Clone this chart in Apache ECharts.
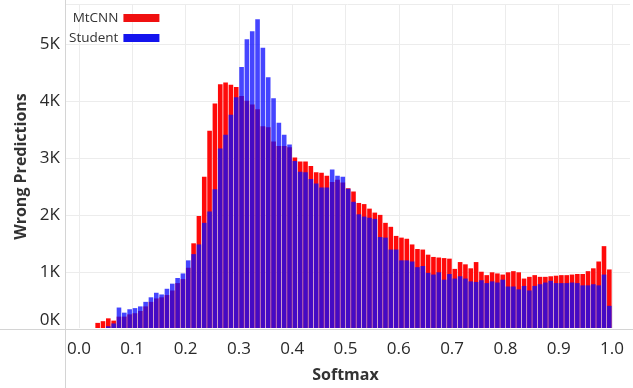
<!DOCTYPE html>
<html>
<head>
<meta charset="utf-8">
<script src="https://cdn.jsdelivr.net/npm/echarts@6/dist/echarts.min.js"></script>
<style>
  html, body { margin: 0; padding: 0; background: #fff; }
  #chart { width: 633px; height: 388px; }
</style>
</head>
<body>
<div id="chart"></div>
<script>
// wrong predictions per softmax bin (width 0.01)
const mtcnn = [
  0, 0, 0, 90, 120, 170, 130, 200, 200, 240,
  260, 300, 380, 460, 520, 540, 580, 660, 790, 860,
  1060, 1490, 1970, 2660, 3470, 3950, 4290, 4320, 4280, 4240,
  4080, 4000, 3930, 3850, 3550, 3530, 3280, 3200, 3200, 3180,
  3000, 2930, 2930, 2850, 2740, 2730, 2680, 2570, 2610, 2560,
  2460, 2400, 2200, 2180, 2100, 2030, 1990, 1850, 1780, 1620,
  1590, 1570, 1470, 1390, 1380, 1290, 1250, 1240, 1230, 1220,
  1040, 1160, 1120, 1050, 1160, 990, 930, 980, 960, 940,
  980, 1000, 980, 870, 900, 930, 900, 900, 910, 920,
  930, 930, 940, 950, 950, 1000, 1050, 1170, 1440, 1030
];
const student = [
  0, 0, 0, 0, 0, 30, 80, 360, 270, 330,
  350, 380, 460, 540, 620, 590, 690, 780, 880, 960,
  1190, 1300, 1470, 1850, 2050, 2440, 3160, 3400, 3750, 4060,
  4590, 5080, 5220, 5430, 4930, 4410, 4040, 3610, 3400, 3230,
  2940, 2750, 2740, 2620, 2540, 2470, 2470, 2790, 2680, 2660,
  2450, 2220, 2000, 1960, 1940, 1920, 1600, 1590, 1380, 1380,
  1190, 1190, 1170, 1070, 1090, 970, 940, 980, 850, 950,
  870, 910, 870, 820, 810, 840, 790, 820, 800, 850,
  730, 730, 680, 740, 660, 740, 770, 800, 830, 790,
  790, 790, 800, 790, 750, 750, 770, 750, 940, 390
];
const binWidth = 0.01;
const binCenters = mtcnn.map((_, i) => +((i + 0.5) * binWidth).toFixed(3));

const yMax = 5700;
const labelFont = 'Open Sans';

const chart = echarts.init(document.getElementById('chart'));

const option = {
  animation: false,
  textStyle: { fontFamily: labelFont },
  grid: [
    { left: 79, right: 21, top: 4, bottom: 59 },
    { left: 65, right: 3, top: 4, bottom: 59 }
  ],
  legend: {
    orient: 'vertical',
    left: 64,
    top: 6,
    align: 'right',
    itemWidth: 36,
    itemHeight: 8,
    itemGap: 6,
    textStyle: { fontSize: 13.5, color: '#333', width: 46, align: 'right', padding: [0, 0, 0, 0] },
    data: [
      { name: 'MtCNN', icon: 'rect', itemStyle: { color: '#f01010', opacity: 1 } },
      { name: 'Student', icon: 'rect', itemStyle: { color: '#1414ee', opacity: 1 } }
    ]
  },
  xAxis: [{
    gridIndex: 0,
    type: 'value',
    min: 0,
    max: 1,
    interval: 0.1,
    name: 'Softmax',
    nameLocation: 'middle',
    nameGap: 39,
    nameTextStyle: { fontSize: 16, fontWeight: 'bold', color: '#333', fontFamily: labelFont },
    axisLine: { show: false },
    axisTick: { show: false },
    axisLabel: {
      fontSize: 17, color: '#2a2a2a', margin: 13,
      formatter: v => v.toFixed(1)
    },
    splitLine: { show: true, lineStyle: { color: '#ececec', width: 1 } }
  }, {
    gridIndex: 1,
    type: 'value',
    show: false
  }],
  yAxis: [{
    gridIndex: 0,
    type: 'value',
    min: 0,
    max: yMax,
    interval: 1000,
    axisLine: { show: false },
    axisTick: { show: false },
    axisLabel: { show: false },
    splitLine: { show: false }
  }, {
    gridIndex: 1,
    type: 'value',
    min: 0,
    max: yMax,
    interval: 1000,
    name: 'Wrong Predictions',
    nameLocation: 'middle',
    nameGap: 36,
    nameTextStyle: { fontSize: 16, fontWeight: 'bold', color: '#333', fontFamily: labelFont },
    axisLine: { show: false },
    axisTick: { show: false },
    axisLabel: {
      fontSize: 17, color: '#2a2a2a', margin: 5,
      formatter: v => (v % 1000 ? '' : (v === 0 ? '{lift|0K}' : v / 1000 + 'K')),
      rich: { lift: { fontSize: 17, color: '#2a2a2a', fontFamily: labelFont, padding: [0, 0, 18, 0] } }
    },
    splitLine: { show: true, lineStyle: { color: '#ececec', width: 1 } }
  }],
  series: [{
    name: 'MtCNN',
    type: 'bar',
    xAxisIndex: 0,
    yAxisIndex: 0,
    barWidth: 4.6,
    barGap: '-100%',
    itemStyle: { color: '#ff0a0a' },
    data: binCenters.map((x, i) => [x, mtcnn[i]])
  }, {
    name: 'Student',
    type: 'bar',
    xAxisIndex: 0,
    yAxisIndex: 0,
    barWidth: 4.6,
    barGap: '-100%',
    itemStyle: { color: 'rgba(10,10,255,0.76)' },
    data: binCenters.map((x, i) => [x, student[i]])
  }],
  graphic: [
    { type: 'line', shape: { x1: 65.5, y1: 0, x2: 65.5, y2: 388 }, style: { stroke: '#d4d4d4', lineWidth: 1 }, z: 10 },
    { type: 'line', shape: { x1: 0, y1: 329.5, x2: 633, y2: 329.5 }, style: { stroke: '#d4d4d4', lineWidth: 1 }, z: 10 }
  ]
};

chart.setOption(option);
</script>
</body>
</html>
